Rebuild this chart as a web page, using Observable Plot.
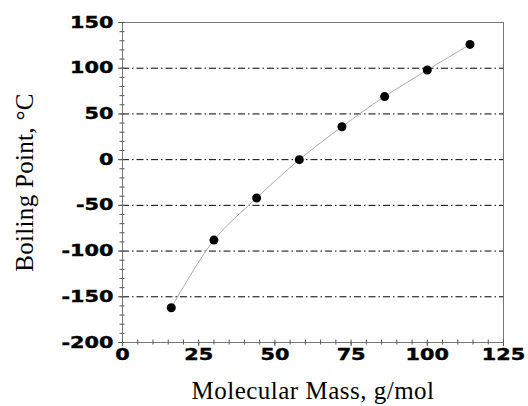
<!DOCTYPE html>
<html>
<head>
<meta charset="utf-8">
<script src="https://cdn.jsdelivr.net/npm/d3@7"></script>
<script src="https://cdn.jsdelivr.net/npm/@observablehq/plot@0.6"></script>
<style>
  html, body { margin: 0; padding: 0; background: #fff; }
  #chart svg { display: block; }
</style>
</head>
<body>
<div id="chart"></div>
<script>
const molecularMass = [16, 30, 44, 58, 72, 86, 100, 114];
const boilingPoint = [-162, -88, -42, 0, 36, 69, 98, 126];
const xTicks = [0, 25, 50, 75, 100, 125];
const yTicks = [-200, -150, -100, -50, 0, 50, 100, 150];
const gridValues = [-150, -100, -50, 0, 50, 100];
const xMinor = d3.range(0, 126, 5);
const yMinor = d3.range(-200, 151, 10);

const data = molecularMass.map((m, i) => ({m, bp: boilingPoint[i]}));

const tickFont = {fontFamily: "DejaVu Sans", fontWeight: "bold", fontSize: 16, fill: "#000"};
const fmt = d => String(d); // plain hyphen-minus like the reference

const chart = Plot.plot({
  width: 528,
  height: 406,
  marginLeft: 122,
  marginRight: 25,
  marginTop: 22,
  marginBottom: 64,
  style: {background: "#fff", overflow: "visible"},
  x: {domain: [0, 125]},
  y: {domain: [-200, 150]},
  marks: [
    Plot.ruleY(gridValues, {stroke: "#000", strokeWidth: 1, strokeDasharray: "7,3,1.5,3"}),
    Plot.frame({stroke: "#777", strokeWidth: 1}),
    Plot.axisX({ticks: xMinor, tickSize: 2.5, text: null, stroke: "#555", label: null}),
    Plot.axisX({ticks: xMinor, tickSize: -2.5, text: null, stroke: "#555", label: null}),
    Plot.axisY({ticks: yMinor, tickSize: 2.5, text: null, stroke: "#555", label: null}),
    Plot.axisY({ticks: yMinor, tickSize: -2.5, text: null, stroke: "#555", label: null}),
    Plot.axisX({ticks: xTicks, tickFormat: fmt, tickSize: 4, tickPadding: 2, stroke: "#555", ...tickFont,
      label: "Molecular Mass, g/mol", labelAnchor: "center", labelArrow: "none", labelOffset: 56}),
    Plot.axisY({ticks: yTicks, tickFormat: fmt, tickSize: 4, tickPadding: 5, stroke: "#555", ...tickFont,
      label: "Boiling Point, °C", labelAnchor: "center", labelArrow: "none", labelOffset: 107}),
    Plot.line(data, {x: "m", y: "bp", stroke: "#aaa", strokeWidth: 1, curve: "catmull-rom"}),
    Plot.dot(data, {x: "m", y: "bp", r: 4.5, fill: "#000", stroke: "none"})
  ]
});

document.getElementById("chart").appendChild(chart);

const svg = d3.select(chart);
svg.selectAll("text").each(function() {
  const txt = this.textContent;
  if (txt.startsWith("Molecular") || txt.startsWith("Boiling")) {
    this.setAttribute("font-family", "Liberation Serif, Times New Roman, serif");
    this.setAttribute("font-weight", "normal");
    this.setAttribute("font-size", "25");
    this.setAttribute("fill", "#000");
    this.setAttribute("letter-spacing", txt.startsWith("Molecular") ? "0.5px" : "0.3px");
  }
});

// widen numeric tick label glyphs horizontally (the reference uses an extended heavy face)
svg.selectAll("text").each(function() {
  const txt = this.textContent.trim();
  if (!/^-?\d+$/.test(txt)) return;
  const g = this.closest("g[aria-label]");
  const isY = g && /y-axis/.test(g.getAttribute("aria-label"));
  const bb = this.getBBox();
  const ax = isY ? bb.x + bb.width : bb.x + bb.width / 2;
  const t = this.getAttribute("transform") || "";
  this.setAttribute("transform", `${t} translate(${ax},0) scale(1.3,1) translate(${-ax},0)`);
  this.setAttribute("stroke", "#000");
  this.setAttribute("stroke-width", "0.4");
});
</script>
</body>
</html>
